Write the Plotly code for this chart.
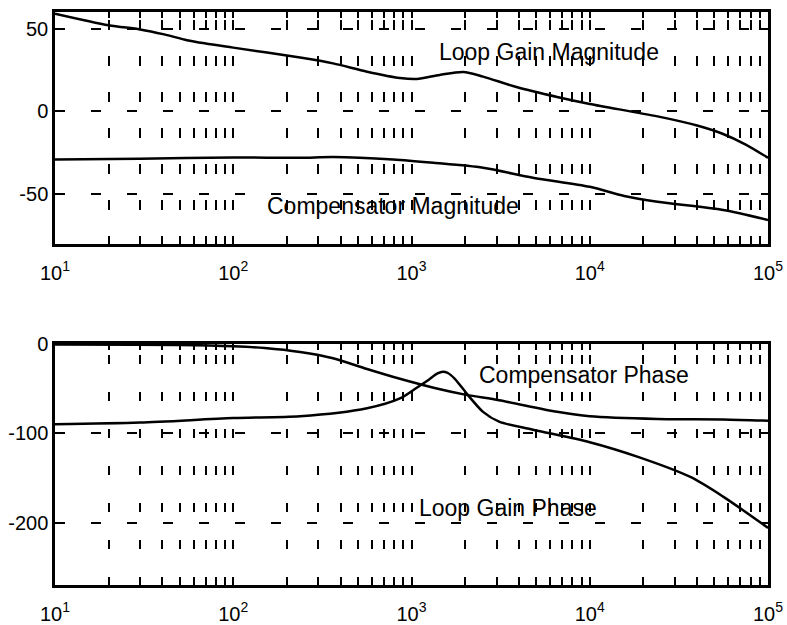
import numpy as np
import plotly.graph_objects as go
from plotly.subplots import make_subplots

# ---- data ----
loop_mag_freq = [10, 20, 30, 41, 55, 70, 100, 237, 363, 563, 861, 1070, 1440, 1950, 2520, 3880, 6560, 10000, 24000, 40000, 56000, 75000, 100000]
loop_mag_db = [59, 52, 49.5, 46.5, 43, 41, 38.5, 32.5, 29, 24, 20.2, 19.6, 22, 23.8, 21, 14.7, 8.7, 4.5, -3, -8.5, -13.6, -20, -28]

comp_mag_freq = [10, 30, 100, 237, 363, 790, 1330, 2520, 4800, 10000, 15600, 24000, 56000, 100000]
comp_mag_db = [-29, -28.5, -27.8, -28, -27.5, -29, -31, -34, -40, -45.5, -51, -54.5, -59.5, -65.5]

loop_ph_freq = [10, 30, 100, 237, 563, 861, 1070, 1250, 1400, 1500, 1600, 1750, 2030, 2520, 3100, 4800, 10000, 19000, 36700, 56000, 100000]
loop_ph_deg = [-90, -88, -83, -81, -72, -61, -49, -40, -33, -31, -32.5, -39, -55, -76, -87, -96, -110, -127, -149, -171, -206]

comp_ph_freq = [10, 50, 100, 150, 237, 363, 563, 861, 1330, 2030, 3100, 6560, 10000, 24000, 56000, 100000]
comp_ph_deg = [-0.5, -1, -2.5, -4.5, -9, -16, -28, -39, -49, -57, -63, -76, -81, -84, -84.5, -86]

decades = [1, 2, 3, 4, 5]
mag_yticks = [-50, 0, 50]
ph_yticks = [-200, -100, 0]

labels = {
    "mag_loop": "Loop Gain Magnitude",
    "mag_comp": "Compensator Magnitude",
    "ph_comp": "Compensator Phase",
    "ph_loop": "Loop Gain Phase",
}

major_vals = [10 ** d for d in decades]
major_text = [f"10<sup>{d}</sup>" for d in decades]
minor_vals = [m * 10 ** d for d in decades[:-1] for m in range(2, 10)]

FONT = "Liberation Sans, Arial, Helvetica, sans-serif"

fig = make_subplots(rows=2, cols=1, vertical_spacing=0.0)

line = dict(color="black", width=2.5)
for f, v, r in [(loop_mag_freq, loop_mag_db, 1), (comp_mag_freq, comp_mag_db, 1),
                (loop_ph_freq, loop_ph_deg, 2), (comp_ph_freq, comp_ph_deg, 2)]:
    fig.add_trace(go.Scatter(x=f, y=v, mode="lines",
                             line=dict(**line, shape="spline", smoothing=0.8)), row=r, col=1)

def xaxis_cfg(dash):
    return dict(
        type="log", range=[1, 5], tickvals=major_vals, ticktext=major_text,
        ticks="inside", ticklen=6, tickwidth=1.5, tickcolor="black",
        showline=True, linewidth=2.5, linecolor="black", mirror="allticks",
        showgrid=True, gridcolor="black", gridwidth=2, griddash=dash,
        minor=dict(tickvals=minor_vals, ticks="inside", ticklen=6, tickwidth=1.5, tickcolor="black",
                   showgrid=True, gridcolor="black", gridwidth=2, griddash=dash),
        zeroline=False, tickangle=0, automargin=False,
        tickfont=dict(family=FONT, size=20, color="black"),
        ticklabelstandoff=9,
    )

def yaxis_cfg(rng, vals):
    return dict(
        range=rng, tickvals=vals, ticktext=[str(v) for v in vals],
        ticks="inside", ticklen=7, tickwidth=1.5, tickcolor="black",
        showline=True, linewidth=2.5, linecolor="black", mirror="allticks",
        showgrid=True, gridcolor="black", gridwidth=2, griddash="10px,26px",
        zeroline=False, automargin=False,
        tickfont=dict(family=FONT, size=20, color="black"),
    )

fig.update_xaxes(**xaxis_cfg("0px,8px,10px,18px"), row=1, col=1)
fig.update_xaxes(**xaxis_cfg("0px,11px,9px,17px"), row=2, col=1)
fig.update_yaxes(**yaxis_cfg([-80, 60], mag_yticks), row=1, col=1)
fig.update_yaxes(**yaxis_cfg([-270, 0], ph_yticks), row=2, col=1)

fig.update_layout(
    width=787, height=625,
    margin=dict(l=55, r=19, t=12, b=40),
    plot_bgcolor="white", paper_bgcolor="white",
    showlegend=False,
    xaxis=dict(domain=[0, 1]), yaxis=dict(domain=[0.5951, 1]),
    xaxis2=dict(domain=[0, 1]), yaxis2=dict(domain=[0, 0.4206]),
    font=dict(family=FONT, color="black"),
)

ann_font = dict(family=FONT, size=23, color="black")
fig.add_annotation(x=3.771, y=35.9, xref="x", yref="y", text=labels["mag_loop"], showarrow=False, font=ann_font)
fig.add_annotation(x=2.895, y=-57.1, xref="x", yref="y", text=labels["mag_comp"], showarrow=False, font=ann_font)
fig.add_annotation(x=3.968, y=-34.7, xref="x2", yref="y2", text=labels["ph_comp"], showarrow=False, font=ann_font)
fig.add_annotation(x=3.541, y=-183.7, xref="x2", yref="y2", text=labels["ph_loop"], showarrow=False, font=ann_font)

fig.write_html(
    "out.html",
    config={"displayModeBar": False},
    post_script="document.body.style.margin='0';document.body.style.overflow='hidden';",
)
